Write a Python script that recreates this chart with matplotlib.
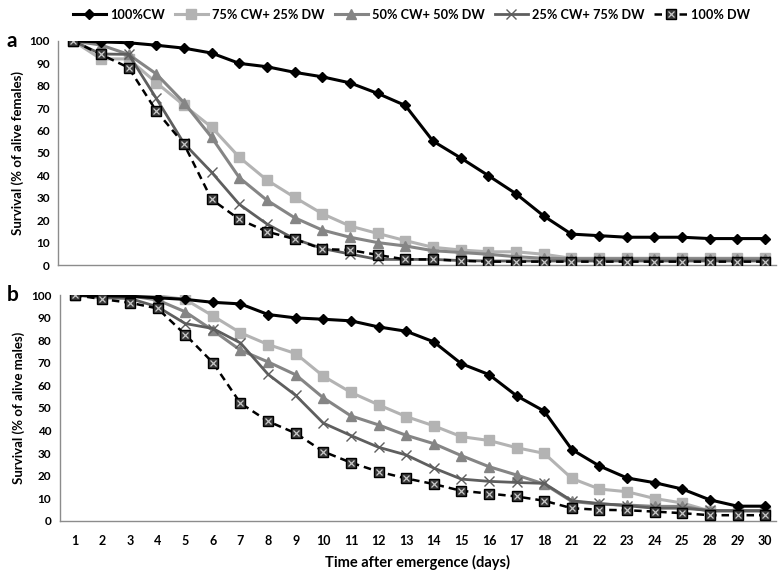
"""Survival curves of females (a) and males (b) under water mixtures."""

import matplotlib

matplotlib.use("Agg")
import matplotlib.pyplot as plt
from matplotlib.legend_handler import HandlerTuple

plt.rcParams["font.family"] = ["Lato", "DejaVu Sans"]
plt.rcParams["font.weight"] = "bold"

days = ["1", "2", "3", "4", "5", "6", "7", "8", "9", "10", "11", "12", "13",
        "14", "15", "16", "17", "18", "21", "22", "23", "24", "25", "28", "29", "30"]

series_names = ["100%CW", "75% CW+ 25% DW", "50% CW+ 50% DW", "25% CW+ 75% DW", "100% DW"]

# panel a: % of alive females
cw100_f = [100, 99.6, 99.2, 98.1, 96.8, 94.6, 90.0, 88.5, 86.0, 84.0, 81.3, 76.6, 71.2,
           55.3, 47.8, 39.9, 31.8, 21.9, 13.8, 13.1, 12.4, 12.4, 12.4, 11.8, 11.8, 11.8]
cw75_f = [100, 92, 92, 81.4, 71.3, 61.5, 48.1, 37.9, 30.2, 22.9, 17.4, 14.1, 10.9,
          7.9, 6.7, 5.9, 5.9, 4.8, 3, 3, 3, 3, 3, 3, 3, 3]
cw50_f = [100, 98.2, 94, 85.3, 72.5, 57, 39, 28.9, 21.1, 15.6, 12.4, 10, 8.5,
          6.4, 5.6, 4.8, 3.7, 3, 2.8, 2.8, 2.8, 2.8, 2.8, 2.8, 2.8, 2.8]
cw25_f = [100, 94.2, 94, 74.4, 54.3, 41.4, 27.1, 18.3, 11.6, 7.4, 4.9, 2.5, 2.5,
          2.5, 2.0, 1.8, 1.8, 1.8, 1.8, 1.8, 1.8, 1.8, 1.8, 1.8, 1.8, 1.8]
dw100_f = [100, 94, 88.1, 68.8, 54, 29.3, 20.4, 14.9, 11.6, 7.1, 6.7, 4.5, 2.5,
           2.5, 1.9, 1.5, 1.5, 1.5, 1.5, 1.5, 1.5, 1.5, 1.5, 1.5, 1.5, 1.5]

# panel b: % of alive males
cw100_m = [100, 99.7, 99.5, 98.8, 98.1, 96.8, 96.1, 91.4, 89.9, 89.3, 88.6, 85.9, 84.0,
           79.3, 69.6, 64.8, 55.4, 48.6, 31.6, 24.3, 19.0, 16.9, 14.1, 9.3, 6.5, 6.5]
cw75_m = [100, 100, 100, 99.7, 98.1, 90.8, 83.3, 78.1, 74.1, 64.1, 56.9, 51.4, 46.2,
          42.1, 37.3, 35.6, 32.4, 29.9, 18.8, 14.1, 12.9, 9.9, 7.9, 4.4, 4.5, 4.5]
cw50_m = [100, 100, 99.7, 97.8, 92.6, 84.4, 75.6, 70.4, 64.7, 54.5, 46.5, 42.5, 37.9,
          34.2, 28.9, 24.0, 20.3, 16.3, 8.6, 7.4, 7.0, 6.4, 6.4, 4.4, 4.4, 4.4]
cw25_m = [100, 98.8, 98.5, 94.8, 87.4, 85.2, 78.8, 64.9, 55.6, 43.3, 37.8, 32.6, 29.2,
          23.4, 18.5, 17.5, 17.0, 16.6, 8.9, 7.7, 6.7, 5.6, 5.6, 4.6, 4.5, 4.5]
dw100_m = [100, 98.2, 96.6, 94.1, 82.5, 70.1, 52.1, 44.1, 38.8, 30.7, 25.8, 21.8, 18.8,
           16.3, 13.3, 12.1, 10.8, 8.9, 5.6, 4.9, 4.7, 4.1, 3.4, 2.5, 2.5, 2.5]


def draw_panel(ax, cw100, cw75, cw50, cw25, dw100):
    x = range(len(days))
    h = []
    h.append(ax.plot(x, cw100, color="black", lw=2.2, marker="D", ms=5, zorder=6)[0])
    h.append(ax.plot(x, cw75, color="#b3b3b3", lw=2.2, marker="s", ms=7, zorder=3)[0])
    h.append(ax.plot(x, cw50, color="#858585", lw=2.2, marker="^", ms=7, zorder=4)[0])
    h.append(ax.plot(x, cw25, color="#5e5e5e", lw=2.0, marker="x", ms=7, mew=1.0, zorder=5)[0])
    # 100% DW: dashed line, dark square with a light cross inside
    sq = ax.plot(x, dw100, color="black", lw=1.8, ls=(0, (3, 2)), marker="s", ms=7,
                 mfc="#3a3a3a", mec="black", zorder=7)[0]
    xx = ax.plot(x, dw100, ls="none", marker="x", ms=5, mew=0.9, color="#c8c8c8", zorder=8)[0]
    h.append((sq, xx))

    ax.set_xlim(-0.55, len(days) - 0.6)
    ax.set_ylim(0, 100)
    ax.set_yticks(range(0, 101, 10))
    ax.tick_params(length=0, labelsize=8.5, pad=6)
    for s in ["top", "right"]:
        ax.spines[s].set_visible(False)
    for s in ["left", "bottom"]:
        ax.spines[s].set_color("#8c8c8c")
        ax.spines[s].set_linewidth(1.0)
    return h


fig = plt.figure(figsize=(7.84, 5.73), dpi=100)
ax_a = fig.add_axes([0.074, 0.5375, 0.916, 0.391])
ax_b = fig.add_axes([0.076, 0.091, 0.914, 0.394])

handles = draw_panel(ax_a, cw100_f, cw75_f, cw50_f, cw25_f, dw100_f)
draw_panel(ax_b, cw100_m, cw75_m, cw50_m, cw25_m, dw100_m)

ax_a.set_xticks(range(len(days)))
ax_a.set_xticklabels([])
ax_b.set_xticks(range(len(days)))
ax_b.set_xticklabels(days)
ax_b.tick_params(axis="x", pad=10, labelsize=9)

ax_a.set_ylabel("Survival (% of alive females)", fontsize=9.5, fontweight="bold")
ax_b.set_ylabel("Survival (% of alive males)", fontsize=9.5, fontweight="bold")
ax_b.set_xlabel("Time after emergence (days)", fontsize=10.5, fontweight="bold", labelpad=6)

fig.text(0.008, 0.928, "a", fontsize=15, fontweight="bold", va="center")
fig.text(0.008, 0.485, "b", fontsize=15, fontweight="bold", va="center")

fig.legend(handles, series_names, loc="upper center", bbox_to_anchor=(0.525, 1.005),
           ncol=5, frameon=False, fontsize=9.2, handlelength=2.6, columnspacing=0.8,
           handletextpad=0.3, handler_map={tuple: HandlerTuple(ndivide=1)})

fig.savefig("out.png", dpi=100)
